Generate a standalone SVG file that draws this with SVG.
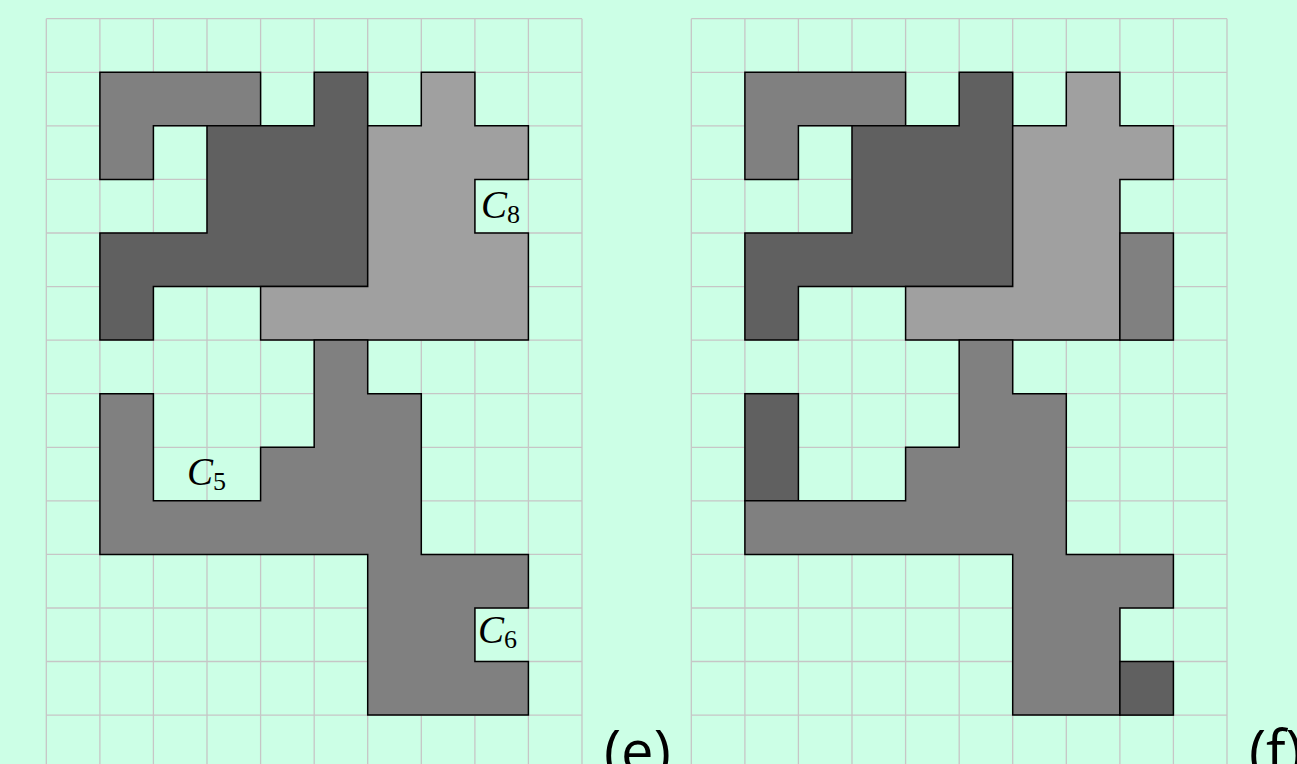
<svg xmlns="http://www.w3.org/2000/svg" width="1297" height="764" viewBox="0 0 1297 764">
<defs>
<style>
.bg{fill:#ccffe6}
.grid{fill:none;stroke:#c6c6c6;stroke-width:1.3}
.sh{stroke:#000;stroke-width:1.5;stroke-linejoin:miter}
.dk{fill:#606060}
.md{fill:#808080}
.lt{fill:#a0a0a0}
.cl{font-family:"Liberation Serif","DejaVu Serif",serif;font-style:italic;font-size:39px;fill:#000}
.sub{font-family:"Liberation Serif","DejaVu Serif",serif;font-size:26px;fill:#000}
.cap{font-family:"Open Sans","Noto Sans",sans-serif;font-size:58px;fill:#000}
</style>
</defs>
<rect class="bg" x="0" y="0" width="1297" height="764"/>
<g id="grid-e">
<path class="grid" d="M46.3,18.7V764M99.9,18.7V764M153.4,18.7V764M207,18.7V764M260.6,18.7V764M314.2,18.7V764M367.7,18.7V764M421.3,18.7V764M474.9,18.7V764M528.4,18.7V764M582,18.7V764
M46.3,18.7H582M46.3,72.3H582M46.3,125.8H582M46.3,179.4H582M46.3,233H582M46.3,286.6H582M46.3,340.1H582M46.3,393.7H582M46.3,447.3H582M46.3,500.8H582M46.3,554.4H582M46.3,608H582M46.3,661.5H582M46.3,715.1H582"/>
</g>
<g id="grid-f">
<path class="grid" d="M691.3,18.7V764M744.9,18.7V764M798.4,18.7V764M852,18.7V764M905.6,18.7V764M959.2,18.7V764M1012.7,18.7V764M1066.3,18.7V764M1119.9,18.7V764M1173.4,18.7V764M1227,18.7V764
M691.3,18.7H1227M691.3,72.3H1227M691.3,125.8H1227M691.3,179.4H1227M691.3,233H1227M691.3,286.6H1227M691.3,340.1H1227M691.3,393.7H1227M691.3,447.3H1227M691.3,500.8H1227M691.3,554.4H1227M691.3,608H1227M691.3,661.5H1227M691.3,715.1H1227"/>
</g>
<g id="e-A"><polygon class="sh md" points="99.9,72.3 260.6,72.3 260.6,125.8 153.4,125.8 153.4,179.4 99.9,179.4"/></g>
<g id="e-B"><polygon class="sh dk" points="314.2,72.3 367.7,72.3 367.7,286.6 153.4,286.6 153.4,340.1 99.9,340.1 99.9,233 207,233 207,125.8 314.2,125.8"/></g>
<g id="e-C8"><polygon class="sh lt" points="421.3,72.3 474.9,72.3 474.9,125.8 528.4,125.8 528.4,179.4 474.9,179.4 474.9,233 528.4,233 528.4,340.1 260.6,340.1 260.6,286.6 367.7,286.6 367.7,125.8 421.3,125.8"/></g>
<g id="e-D"><polygon class="sh md" points="314.2,340.1 367.7,340.1 367.7,393.7 421.3,393.7 421.3,554.4 528.4,554.4 528.4,608 474.9,608 474.9,661.5 528.4,661.5 528.4,715.1 367.7,715.1 367.7,554.4 99.9,554.4 99.9,393.7 153.4,393.7 153.4,500.8 260.6,500.8 260.6,447.3 314.2,447.3"/></g>
<g id="f-A"><polygon class="sh md" points="744.9,72.3 905.6,72.3 905.6,125.8 798.4,125.8 798.4,179.4 744.9,179.4"/></g>
<g id="f-B"><polygon class="sh dk" points="959.2,72.3 1012.7,72.3 1012.7,286.6 798.4,286.6 798.4,340.1 744.9,340.1 744.9,233 852,233 852,125.8 959.2,125.8"/></g>
<g id="f-C"><polygon class="sh lt" points="1066.3,72.3 1119.9,72.3 1119.9,125.8 1173.4,125.8 1173.4,179.4 1119.9,179.4 1119.9,340.1 905.6,340.1 905.6,286.6 1012.7,286.6 1012.7,125.8 1066.3,125.8"/></g>
<g id="f-E"><rect class="sh md" x="1119.9" y="233" width="53.5" height="107.1"/></g>
<g id="f-F"><rect class="sh dk" x="744.9" y="393.7" width="53.5" height="107.1"/></g>
<g id="f-D"><polygon class="sh md" points="959.2,340.1 1012.7,340.1 1012.7,393.7 1066.3,393.7 1066.3,554.4 1173.4,554.4 1173.4,608 1119.9,608 1119.9,715.1 1012.7,715.1 1012.7,554.4 744.9,554.4 744.9,500.8 905.6,500.8 905.6,447.3 959.2,447.3"/></g>
<g id="f-G"><rect class="sh dk" x="1119.9" y="661.5" width="53.5" height="53.6"/></g>
<g id="labels">
<text class="cl" x="481" y="218">C</text><text class="sub" x="507" y="223">8</text>
<text class="cl" x="187" y="485">C</text><text class="sub" x="213" y="490">5</text>
<text class="cl" x="478" y="643">C</text><text class="sub" x="504" y="648">6</text>
<text class="cap" x="604" y="772">(e)</text>
<text class="cap" x="1249" y="772">(f)</text>
</g>
</svg>
